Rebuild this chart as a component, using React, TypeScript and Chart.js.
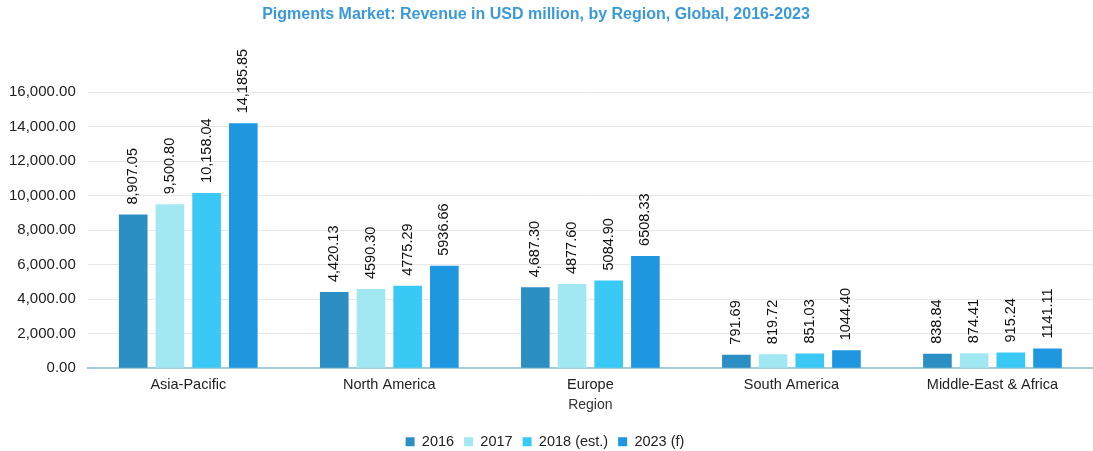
import React, { useEffect, useRef } from "react";
import { Chart, registerables } from "chart.js";

Chart.register(...registerables);

const regions = ["Asia-Pacific", "North America", "Europe", "South America", "Middle-East & Africa"];
const seriesNames = ["2016", "2017", "2018 (est.)", "2023 (f)"];
const values2016 = [8907.05, 4420.13, 4687.3, 791.69, 838.84];
const values2017 = [9500.8, 4590.3, 4877.6, 819.72, 874.41];
const values2018 = [10158.04, 4775.29, 5084.9, 851.03, 915.24];
const values2023 = [14185.85, 5936.66, 6508.33, 1044.4, 1141.11];
const labels2016 = ["8,907.05", "4,420.13", "4,687.30", "791.69", "838.84"];
const labels2017 = ["9,500.80", "4590.30", "4877.60", "819.72", "874.41"];
const labels2018 = ["10,158.04", "4775.29", "5084.90", "851.03", "915.24"];
const labels2023 = ["14,185.85", "5936.66", "6508.33", "1044.40", "1141.11"];
const colors = ["#2b8fc4", "#a2e8f2", "#3ac9f5", "#1e96e0"];
const titleText = "Pigments Market: Revenue in USD million, by Region, Global, 2016-2023";
const xTitle = "Region";
const yMax = 16000;
const yStep = 2000;

const FONT = "'Liberation Sans', Arial, sans-serif";

export default function App() {
  const ref = useRef<HTMLCanvasElement | null>(null);

  useEffect(() => {
    if (!ref.current) return;
    const allValues = [values2016, values2017, values2018, values2023];
    const allLabels = [labels2016, labels2017, labels2018, labels2023];

    const valueLabelPlugin = {
      id: "valueLabels",
      afterDatasetsDraw(chart: any) {
        const ctx = chart.ctx;
        ctx.save();
        ctx.font = `14.5px ${FONT}`;
        ctx.fillStyle = "#111";
        ctx.textAlign = "left";
        ctx.textBaseline = "middle";
        chart.data.datasets.forEach((ds: any, di: number) => {
          const meta = chart.getDatasetMeta(di);
          meta.data.forEach((bar: any, i: number) => {
            const txt = allLabels[di][i];
            ctx.save();
            ctx.translate(bar.x, bar.y - 10);
            ctx.rotate(-Math.PI / 2);
            ctx.fillText(txt, 0, 0);
            ctx.restore();
          });
        });
        ctx.restore();
      },
    };

    const titlePlugin = {
      id: "customTitle",
      afterDraw(chart: any) {
        const ctx = chart.ctx;
        ctx.save();
        ctx.font = `bold 16px ${FONT}`;
        ctx.fillStyle = "#3a9ad9";
        ctx.textAlign = "center";
        ctx.textBaseline = "middle";
        ctx.fillText(titleText, 536, 15);
        ctx.restore();
      },
    };

    const chart = new Chart(ref.current, {
      type: "bar",
      data: {
        labels: regions,
        datasets: seriesNames.map((name, i) => ({
          label: name,
          data: allValues[i],
          backgroundColor: colors[i],
          borderWidth: 0,
          categoryPercentage: 0.73,
          barPercentage: 0.78,
        })),
      },
      options: {
        animation: false,
        responsive: false,
        maintainAspectRatio: false,
        layout: { padding: { top: 92, left: -3, right: 0, bottom: -8 } },
        plugins: {
          title: { display: false },
          tooltip: { enabled: false },
          legend: {
            position: "bottom",
            labels: {
              boxWidth: 9,
              boxHeight: 9,
              padding: 10,
              color: "#222",
              font: { family: FONT, size: 14.5 },
            },
          },
        },
        scales: {
          x: {
            grid: { display: false },
            border: { display: true, color: "#a9c9d9", width: 2 },
            ticks: { color: "#222", font: { family: FONT, size: 14.5 }, padding: 0 },
            title: {
              display: true,
              text: xTitle,
              color: "#333",
              font: { family: FONT, size: 14 },
              padding: { top: 3, bottom: 11 },
            },
          },
          y: {
            min: 0,
            max: yMax,
            grid: { color: "#e8e8e8", drawTicks: false },
            border: { display: false },
            ticks: {
              stepSize: yStep,
              padding: 12,
              color: "#222",
              font: { family: FONT, size: 15 },
              callback: (v: any) =>
                Number(v).toLocaleString("en-US", { minimumFractionDigits: 2, maximumFractionDigits: 2 }),
            },
          },
        },
      },
      plugins: [valueLabelPlugin, titlePlugin],
    });
    return () => chart.destroy();
  }, []);

  return (
    <div style={{ position: "fixed", left: 0, top: 0, width: 1093, height: 451, background: "#fff" }}>
      <canvas ref={ref} width={1093} height={451} style={{ width: 1093, height: 451, display: "block" }} />
    </div>
  );
}
